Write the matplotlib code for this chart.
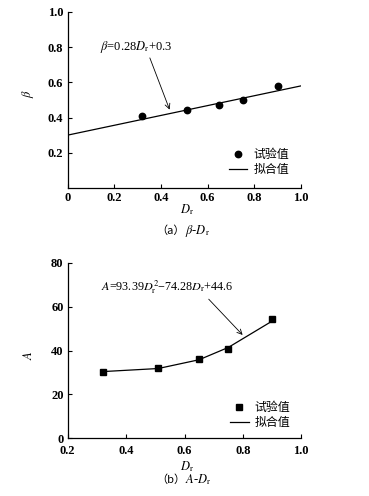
import matplotlib
matplotlib.use("Agg")
import matplotlib.pyplot as plt

plt.rcParams['font.family'] = ['Liberation Serif', 'Noto Sans CJK SC']
plt.rcParams['mathtext.fontset'] = 'stix'

# data (a)
dr_a = [0.32, 0.51, 0.65, 0.75, 0.90]
beta_test = [0.41, 0.442, 0.472, 0.499, 0.579]
fit_a_x = [0.0, 1.0]
fit_a_y = [0.30, 0.58]

# data (b)
dr_b = [0.32, 0.51, 0.65, 0.75, 0.90]
A_test = [30.4, 32.2, 36.3, 40.5, 54.3]
A_fit = [30.4, 31.8, 35.8, 41.4, 53.4]

legend_labels = ['试验值', '拟合值']
cjk = ['Noto Sans CJK SC', 'Liberation Serif']

fig = plt.figure(figsize=(3.69, 4.96), dpi=100)
ax1 = fig.add_axes([0.183, 0.621, 0.633, 0.355])
ax2 = fig.add_axes([0.1835, 0.1163, 0.633, 0.354])

def style(ax, xpad=3):
    for s in ['top', 'right']:
        ax.spines[s].set_visible(False)
    for s in ['left', 'bottom']:
        ax.spines[s].set_linewidth(0.9)
    ax.tick_params(direction='in', length=3, width=0.8, labelsize=9, pad=3)
    ax.tick_params(axis='x', pad=xpad)
    for lab in ax.get_xticklabels() + ax.get_yticklabels():
        lab.set_fontweight('bold')

# (a)
ax1.plot(dr_a, beta_test, 'o', color='black', markersize=4.6, label=legend_labels[0])
ax1.plot(fit_a_x, fit_a_y, '-', color='black', linewidth=0.9, label=legend_labels[1])
ax1.set_xlim(0, 1.0)
ax1.set_ylim(0, 1.0)
ax1.set_xticks([0, 0.2, 0.4, 0.6, 0.8, 1.0])
ax1.set_xticklabels(['0', '0.2', '0.4', '0.6', '0.8', '1.0'])
ax1.set_yticks([0.2, 0.4, 0.6, 0.8, 1.0])
ax1.set_yticklabels(['0.2', '0.4', '0.6', '0.8', '1.0'])
style(ax1)
ax1.annotate(r'$\beta$=0.28$D_{\rm r}$+0.3', xy=(0.437, 0.445), xytext=(0.14, 0.80),
             fontsize=9, va='center', ha='left',
             arrowprops=dict(arrowstyle='->', color='black', lw=0.6,
                             shrinkA=0, shrinkB=0, relpos=(0.67, 0.0)))
ax1.legend(loc='upper left', bbox_to_anchor=(0.69, 0.228), frameon=False,
           prop={'family': cjk, 'size': 8.6}, handlelength=1.55,
           handletextpad=0.5, labelspacing=0.2, borderpad=0, borderaxespad=0)

# (b)
ax2.plot(dr_b, A_test, 's', color='black', markersize=4.2, label=legend_labels[0])
ax2.plot(dr_b, A_fit, '-', color='black', linewidth=0.9, label=legend_labels[1])
ax2.set_xlim(0.2, 1.0)
ax2.set_ylim(0, 80)
ax2.set_xticks([0.2, 0.4, 0.6, 0.8, 1.0])
ax2.set_xticklabels(['0.2', '0.4', '0.6', '0.8', '1.0'])
ax2.set_yticks([0, 20, 40, 60, 80])
style(ax2, xpad=4.5)
ax2.annotate(r'$A$=93.39$D_{\rm r}^2$−74.28$D_{\rm r}$+44.6', xy=(0.799, 47.1), xytext=(0.315, 68.6),
             fontsize=8.7, va='center', ha='left',
             arrowprops=dict(arrowstyle='->', color='black', lw=0.6,
                             shrinkA=0, shrinkB=0, relpos=(0.79, 0.0)))
ax2.legend(loc='upper left', bbox_to_anchor=(0.695, 0.213), frameon=False,
           prop={'family': cjk, 'size': 8.6}, handlelength=1.55,
           handletextpad=0.5, labelspacing=0.2, borderpad=0, borderaxespad=0)

# labels
fig.text(187/369, 1 - 210/496, r'$D_{\rm r}$', ha='center', va='center', fontsize=9)
fig.text(28/369, 1 - 94/496, r'$\beta$', ha='center', va='center', fontsize=9, rotation=90)
fig.text(185/369, 1 - 231/496, '（a）', ha='right', va='center', fontsize=8, family=cjk)
fig.text(185/369, 1 - 231/496, r'$\beta$-$D_{\rm r}$', ha='left', va='center', fontsize=9)

fig.text(187/369, 1 - 466.7/496, r'$D_{\rm r}$', ha='center', va='center', fontsize=9)
fig.text(28/369, 1 - 355/496, r'$A$', ha='center', va='center', fontsize=9, rotation=90)
fig.text(185/369, 1 - 480/496, '（b）', ha='right', va='center', fontsize=8, family=cjk)
fig.text(185/369, 1 - 480/496, r'$A$-$D_{\rm r}$', ha='left', va='center', fontsize=9)

fig.savefig('out.png', dpi=100, facecolor='white')
